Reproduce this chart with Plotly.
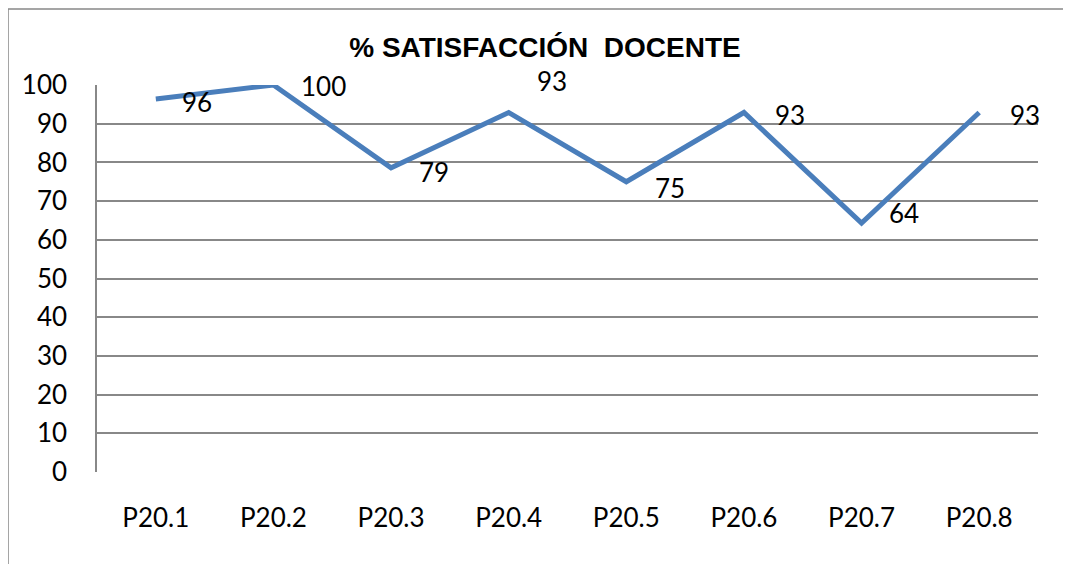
import plotly.graph_objects as go

categories = ["P20.1", "P20.2", "P20.3", "P20.4", "P20.5", "P20.6", "P20.7", "P20.8"]
satisfaccion = [96.4, 100.0, 78.6, 92.9, 75.0, 92.9, 64.3, 92.9]
y_ticks = [0, 10, 20, 30, 40, 50, 60, 70, 80, 90, 100]
title_text = "% SATISFACCIÓN  DOCENTE"

# label offsets (pixels) relative to each point: style only
label_dx = [24, 26, 26, 26, 27, 29, 25, 29]
label_dy = [-3, -1, -4, 31, -6, -3, 10, -3]

# the page body has an 8px default margin; the figure is sized/placed to compensate
W, H = 1055, 556
OFF = 8

fig = go.Figure()
fig.add_trace(go.Scatter(
    x=categories, y=satisfaccion, mode="lines",
    line=dict(color="#4a7ebb", width=5),
    cliponaxis=False,
    hoverinfo="x+y", showlegend=False,
))

for c, v, dx, dy in zip(categories, satisfaccion, label_dx, label_dy):
    fig.add_annotation(
        x=c, y=v, text=f"{v:.0f}", showarrow=False,
        xanchor="left", yanchor="middle", xshift=dx, yshift=dy,
        font=dict(family="Lato", size=26, color="#000000"),
    )

l, t = 97 - OFF, 85 - OFF
plot_w = 1038 - 97
plot_h = 472.3 - 85
r = W - l - plot_w
b = H - t - plot_h

# outer chart frame (extends past the right/bottom edges as in the reference)
fig.add_shape(type="rect", xref="paper", yref="paper",
              x0=(8 - 97) / plot_w, x1=(1120 - 97) / plot_w,
              y0=-0.5, y1=(472.3 - 9) / plot_h,
              line=dict(color="#888888", width=1.5), layer="below")

fig.update_layout(
    width=W, height=H,
    margin=dict(l=l, r=r, t=t, b=b, pad=0),
    paper_bgcolor="white", plot_bgcolor="white",
    title=dict(text=f"<b>{title_text}</b>", x=(545 - OFF) / W, xanchor="center",
               y=1 - (47 - OFF) / H, yanchor="middle",
               font=dict(family="Liberation Sans", size=28, color="#000000")),
    xaxis=dict(type="category", showgrid=False, showline=False, zeroline=False,
               ticks="", tickfont=dict(family="Lato", size=26, color="#000000"),
               ticklabelstandoff=28, range=[-0.5, 7.5]),
    yaxis=dict(range=[0, 100], tickvals=y_ticks, showgrid=True,
               gridcolor="#888888", gridwidth=1.5, zeroline=False,
               showline=True, linecolor="#888888", linewidth=1.5,
               ticks="", tickfont=dict(family="Lato", size=26, color="#000000"),
               ticklabelstandoff=23),
)

fig.write_html("out.html")
